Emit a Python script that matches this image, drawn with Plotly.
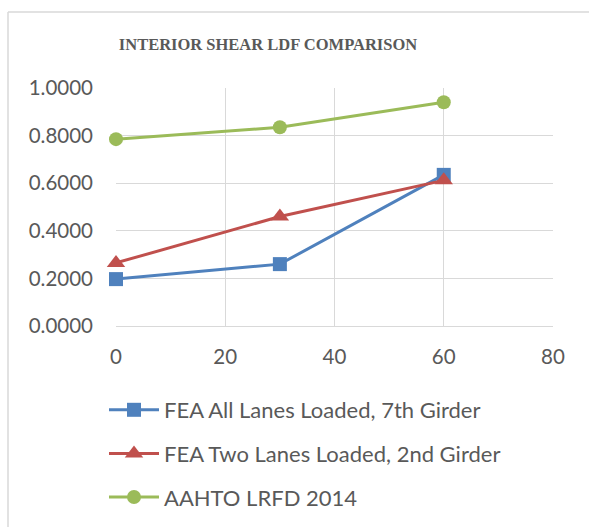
import plotly.graph_objects as go

x_vals = [0, 30, 60]
fea_all = [0.197, 0.260, 0.635]
fea_two = [0.265, 0.460, 0.612]
aashto = [0.785, 0.835, 0.940]
names = ["FEA All Lanes Loaded, 7th Girder", "FEA Two Lanes Loaded, 2nd Girder", "AAHTO LRFD 2014"]
colors = ["#4F81BD", "#C0504D", "#9BBB59"]
symbols = ["square", "triangle-up", "circle"]
marker_sizes = [14, 16, 14]
series = [fea_all, fea_two, aashto]

W, H = 589, 527
L, T = 116, 88
PR, PB = 553, 326
R, B = W - PR, H - PB
PW, PH = PR - L, PB - T

fig = go.Figure()
for i, (ys, nm, c, s, ms) in enumerate(zip(series, names, colors, symbols, marker_sizes)):
    fig.add_trace(go.Scatter(x=x_vals, y=ys, name=nm, mode="lines+markers",
                             line=dict(color=c, width=3),
                             marker=dict(symbol=s, size=ms, color=c),
                             cliponaxis=False, legendgroup=f"g{i}"))

font = "Lato, 'Open Sans', sans-serif"
fig.update_layout(
    width=W, height=H, autosize=False,
    margin=dict(l=L, r=R, t=T, b=B, autoexpand=False),
    paper_bgcolor="white", plot_bgcolor="white",
    title=dict(text="<b>INTERIOR SHEAR LDF COMPARISON</b>", x=268 / W, xanchor="center",
               y=1 - 44 / H, yanchor="middle",
               font=dict(family="'Liberation Serif', 'Times New Roman', serif", size=16.5, color="#595959")),
    xaxis=dict(range=[0, 80], tickvals=[0, 20, 40, 60, 80], showgrid=True, gridcolor="#d9d9d9",
               gridwidth=1, zeroline=False, showline=True, linecolor="#d9d9d9", linewidth=1,
               tickfont=dict(family=font, size=20.5, color="#595959"), ticks="", ticklen=0),
    yaxis=dict(range=[0, 1.0], tickvals=[0, 0.2, 0.4, 0.6, 0.8, 1.0], tickformat=".4f",
               showgrid=True, gridcolor="#d9d9d9", gridwidth=1, zeroline=False, showline=False,
               tickfont=dict(family=font, size=20.5, color="#595959"), ticks="", ticklen=0),
    legend=dict(orientation="v", x=(104 - L) / PW, xanchor="left",
                y=-(389 - PB) / PH, yanchor="top",
                font=dict(family=font, size=22, color="#595959"),
                tracegroupgap=12, itemwidth=50, bgcolor="rgba(0,0,0,0)"),
    showlegend=True,
)
fig.update_xaxes(ticklabelstandoff=12)
fig.update_yaxes(ticklabelstandoff=22)

# chart frame: left and top edges only (right/bottom fall outside the picture)
bx0 = (8 - L) / PW
by1 = 1 + (T - 12) / PH
fig.add_shape(type="line", xref="paper", yref="paper",
              x0=bx0, x1=bx0, y0=-(H + 20 - PB) / PH, y1=by1,
              line=dict(color="#d9d9d9", width=1.5), layer="below")
fig.add_shape(type="line", xref="paper", yref="paper",
              x0=bx0, x1=(W + 20 - L) / PW, y0=by1, y1=by1,
              line=dict(color="#d9d9d9", width=1.5), layer="below")

fig.write_html("out.html", config={"displayModeBar": False},
               post_script="document.body.style.margin='0';document.body.style.overflow='hidden';"
                           "document.documentElement.style.overflow='hidden';")
